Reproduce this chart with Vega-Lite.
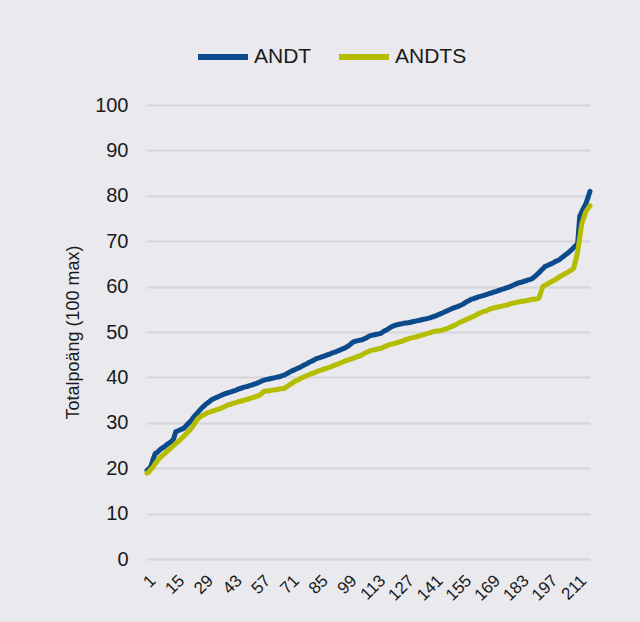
{
  "$schema": "https://vega.github.io/schema/vega-lite/v6.json",
  "width": 443,
  "height": 454,
  "autosize": {"type": "none"},
  "padding": {"left": 147, "top": 105, "right": 50, "bottom": 63},
  "background": "#e9e9ee",
  "config": {
    "view": {"stroke": null},
    "font": "Liberation Sans",
    "axis": {"labelFont": "Liberation Sans", "titleFont": "Liberation Sans", "labelColor": "#1a1a1a", "titleColor": "#1a1a1a"}
  },
  "data": {
    "values": [
      {"i":1,"ANDT":19.5,"ANDTS":18.9},{"i":2,"ANDT":19.9,"ANDTS":19.2},{"i":3,"ANDT":20.5,"ANDTS":19.8},{"i":4,"ANDT":22.0,"ANDTS":20.3},{"i":5,"ANDT":23.2,"ANDTS":21.0},
      {"i":6,"ANDT":23.5,"ANDTS":21.6},{"i":7,"ANDT":23.9,"ANDTS":22.2},{"i":8,"ANDT":24.3,"ANDTS":22.6},{"i":9,"ANDT":24.6,"ANDTS":23.0},{"i":10,"ANDT":24.9,"ANDTS":23.4},
      {"i":11,"ANDT":25.3,"ANDTS":23.8},{"i":12,"ANDT":25.6,"ANDTS":24.2},{"i":13,"ANDT":25.9,"ANDTS":24.6},{"i":14,"ANDT":26.5,"ANDTS":25.0},{"i":15,"ANDT":28.0,"ANDTS":25.4},
      {"i":16,"ANDT":28.2,"ANDTS":25.8},{"i":17,"ANDT":28.4,"ANDTS":26.2},{"i":18,"ANDT":28.6,"ANDTS":26.6},{"i":19,"ANDT":28.8,"ANDTS":27.1},{"i":20,"ANDT":29.3,"ANDTS":27.5},
      {"i":21,"ANDT":29.8,"ANDTS":28.0},{"i":22,"ANDT":30.2,"ANDTS":28.4},{"i":23,"ANDT":30.8,"ANDTS":29.0},{"i":24,"ANDT":31.4,"ANDTS":29.7},{"i":25,"ANDT":31.9,"ANDTS":30.4},
      {"i":26,"ANDT":32.4,"ANDTS":31.0},{"i":27,"ANDT":32.9,"ANDTS":31.3},{"i":28,"ANDT":33.4,"ANDTS":31.6},{"i":29,"ANDT":33.8,"ANDTS":31.8},{"i":30,"ANDT":34.2,"ANDTS":32.1},
      {"i":31,"ANDT":34.5,"ANDTS":32.3},{"i":32,"ANDT":34.9,"ANDTS":32.4},{"i":33,"ANDT":35.2,"ANDTS":32.6},{"i":34,"ANDT":35.4,"ANDTS":32.7},{"i":35,"ANDT":35.6,"ANDTS":32.9},
      {"i":36,"ANDT":35.8,"ANDTS":33.0},{"i":37,"ANDT":36.0,"ANDTS":33.2},{"i":38,"ANDT":36.2,"ANDTS":33.4},{"i":39,"ANDT":36.4,"ANDTS":33.6},{"i":40,"ANDT":36.5,"ANDTS":33.8},
      {"i":41,"ANDT":36.7,"ANDTS":34.0},{"i":42,"ANDT":36.8,"ANDTS":34.1},{"i":43,"ANDT":37.0,"ANDTS":34.3},{"i":44,"ANDT":37.1,"ANDTS":34.4},{"i":45,"ANDT":37.3,"ANDTS":34.6},
      {"i":46,"ANDT":37.5,"ANDTS":34.7},{"i":47,"ANDT":37.6,"ANDTS":34.8},{"i":48,"ANDT":37.8,"ANDTS":34.9},{"i":49,"ANDT":37.9,"ANDTS":35.1},{"i":50,"ANDT":38.0,"ANDTS":35.2},
      {"i":51,"ANDT":38.2,"ANDTS":35.3},{"i":52,"ANDT":38.3,"ANDTS":35.5},{"i":53,"ANDT":38.5,"ANDTS":35.6},{"i":54,"ANDT":38.6,"ANDTS":35.8},{"i":55,"ANDT":38.8,"ANDTS":35.9},
      {"i":56,"ANDT":39.0,"ANDTS":36.1},{"i":57,"ANDT":39.2,"ANDTS":36.5},{"i":58,"ANDT":39.4,"ANDTS":36.9},{"i":59,"ANDT":39.5,"ANDTS":37.0},{"i":60,"ANDT":39.6,"ANDTS":37.0},
      {"i":61,"ANDT":39.7,"ANDTS":37.1},{"i":62,"ANDT":39.8,"ANDTS":37.2},{"i":63,"ANDT":39.9,"ANDTS":37.2},{"i":64,"ANDT":40.0,"ANDTS":37.3},{"i":65,"ANDT":40.1,"ANDTS":37.4},
      {"i":66,"ANDT":40.2,"ANDTS":37.5},{"i":67,"ANDT":40.4,"ANDTS":37.5},{"i":68,"ANDT":40.5,"ANDTS":37.6},{"i":69,"ANDT":40.8,"ANDTS":37.9},{"i":70,"ANDT":41.0,"ANDTS":38.2},
      {"i":71,"ANDT":41.3,"ANDTS":38.5},{"i":72,"ANDT":41.5,"ANDTS":38.8},{"i":73,"ANDT":41.7,"ANDTS":39.1},{"i":74,"ANDT":41.9,"ANDTS":39.3},{"i":75,"ANDT":42.1,"ANDTS":39.5},
      {"i":76,"ANDT":42.3,"ANDTS":39.8},{"i":77,"ANDT":42.6,"ANDTS":40.0},{"i":78,"ANDT":42.8,"ANDTS":40.2},{"i":79,"ANDT":43.0,"ANDTS":40.4},{"i":80,"ANDT":43.3,"ANDTS":40.6},
      {"i":81,"ANDT":43.5,"ANDTS":40.8},{"i":82,"ANDT":43.7,"ANDTS":40.9},{"i":83,"ANDT":44.0,"ANDTS":41.1},{"i":84,"ANDT":44.2,"ANDTS":41.3},{"i":85,"ANDT":44.3,"ANDTS":41.5},
      {"i":86,"ANDT":44.5,"ANDTS":41.6},{"i":87,"ANDT":44.6,"ANDTS":41.8},{"i":88,"ANDT":44.8,"ANDTS":41.9},{"i":89,"ANDT":45.0,"ANDTS":42.1},{"i":90,"ANDT":45.1,"ANDTS":42.2},
      {"i":91,"ANDT":45.3,"ANDTS":42.4},{"i":92,"ANDT":45.5,"ANDTS":42.6},{"i":93,"ANDT":45.6,"ANDTS":42.8},{"i":94,"ANDT":45.8,"ANDTS":42.9},{"i":95,"ANDT":46.0,"ANDTS":43.1},
      {"i":96,"ANDT":46.2,"ANDTS":43.3},{"i":97,"ANDT":46.4,"ANDTS":43.5},{"i":98,"ANDT":46.6,"ANDTS":43.7},{"i":99,"ANDT":46.9,"ANDTS":43.8},{"i":100,"ANDT":47.2,"ANDTS":44.0},
      {"i":101,"ANDT":47.6,"ANDTS":44.1},{"i":102,"ANDT":47.9,"ANDTS":44.3},{"i":103,"ANDT":48.0,"ANDTS":44.5},{"i":104,"ANDT":48.1,"ANDTS":44.6},{"i":105,"ANDT":48.2,"ANDTS":44.8},
      {"i":106,"ANDT":48.3,"ANDTS":45.0},{"i":107,"ANDT":48.5,"ANDTS":45.3},{"i":108,"ANDT":48.7,"ANDTS":45.5},{"i":109,"ANDT":49.0,"ANDTS":45.7},{"i":110,"ANDT":49.2,"ANDTS":45.9},
      {"i":111,"ANDT":49.3,"ANDTS":46.0},{"i":112,"ANDT":49.4,"ANDTS":46.1},{"i":113,"ANDT":49.5,"ANDTS":46.2},{"i":114,"ANDT":49.6,"ANDTS":46.3},{"i":115,"ANDT":49.7,"ANDTS":46.4},
      {"i":116,"ANDT":50.0,"ANDTS":46.6},{"i":117,"ANDT":50.3,"ANDTS":46.8},{"i":118,"ANDT":50.5,"ANDTS":47.0},{"i":119,"ANDT":50.8,"ANDTS":47.2},{"i":120,"ANDT":51.1,"ANDTS":47.3},
      {"i":121,"ANDT":51.3,"ANDTS":47.4},{"i":122,"ANDT":51.5,"ANDTS":47.5},{"i":123,"ANDT":51.6,"ANDTS":47.7},{"i":124,"ANDT":51.7,"ANDTS":47.8},{"i":125,"ANDT":51.8,"ANDTS":47.9},
      {"i":126,"ANDT":51.9,"ANDTS":48.1},{"i":127,"ANDT":52.0,"ANDTS":48.3},{"i":128,"ANDT":52.0,"ANDTS":48.4},{"i":129,"ANDT":52.1,"ANDTS":48.6},{"i":130,"ANDT":52.2,"ANDTS":48.7},
      {"i":131,"ANDT":52.3,"ANDTS":48.8},{"i":132,"ANDT":52.4,"ANDTS":48.9},{"i":133,"ANDT":52.5,"ANDTS":49.0},{"i":134,"ANDT":52.6,"ANDTS":49.2},{"i":135,"ANDT":52.7,"ANDTS":49.3},
      {"i":136,"ANDT":52.8,"ANDTS":49.4},{"i":137,"ANDT":52.9,"ANDTS":49.6},{"i":138,"ANDT":53.0,"ANDTS":49.7},{"i":139,"ANDT":53.1,"ANDTS":49.8},{"i":140,"ANDT":53.3,"ANDTS":50.0},
      {"i":141,"ANDT":53.4,"ANDTS":50.1},{"i":142,"ANDT":53.6,"ANDTS":50.2},{"i":143,"ANDT":53.8,"ANDTS":50.2},{"i":144,"ANDT":54.0,"ANDTS":50.3},{"i":145,"ANDT":54.2,"ANDTS":50.4},
      {"i":146,"ANDT":54.4,"ANDTS":50.6},{"i":147,"ANDT":54.6,"ANDTS":50.7},{"i":148,"ANDT":54.8,"ANDTS":50.9},{"i":149,"ANDT":55.0,"ANDTS":51.1},{"i":150,"ANDT":55.2,"ANDTS":51.3},
      {"i":151,"ANDT":55.4,"ANDTS":51.5},{"i":152,"ANDT":55.5,"ANDTS":51.7},{"i":153,"ANDT":55.7,"ANDTS":52.0},{"i":154,"ANDT":55.9,"ANDTS":52.2},{"i":155,"ANDT":56.1,"ANDTS":52.4},
      {"i":156,"ANDT":56.4,"ANDTS":52.6},{"i":157,"ANDT":56.7,"ANDTS":52.8},{"i":158,"ANDT":56.9,"ANDTS":53.0},{"i":159,"ANDT":57.2,"ANDTS":53.2},{"i":160,"ANDT":57.3,"ANDTS":53.4},
      {"i":161,"ANDT":57.5,"ANDTS":53.6},{"i":162,"ANDT":57.6,"ANDTS":53.9},{"i":163,"ANDT":57.8,"ANDTS":54.1},{"i":164,"ANDT":57.9,"ANDTS":54.3},{"i":165,"ANDT":58.0,"ANDTS":54.5},
      {"i":166,"ANDT":58.2,"ANDTS":54.6},{"i":167,"ANDT":58.3,"ANDTS":54.8},{"i":168,"ANDT":58.5,"ANDTS":55.0},{"i":169,"ANDT":58.6,"ANDTS":55.2},{"i":170,"ANDT":58.8,"ANDTS":55.3},
      {"i":171,"ANDT":58.9,"ANDTS":55.4},{"i":172,"ANDT":59.1,"ANDTS":55.5},{"i":173,"ANDT":59.2,"ANDTS":55.6},{"i":174,"ANDT":59.4,"ANDTS":55.7},{"i":175,"ANDT":59.5,"ANDTS":55.8},
      {"i":176,"ANDT":59.7,"ANDTS":55.9},{"i":177,"ANDT":59.8,"ANDTS":56.0},{"i":178,"ANDT":60.0,"ANDTS":56.2},{"i":179,"ANDT":60.2,"ANDTS":56.3},{"i":180,"ANDT":60.4,"ANDTS":56.4},
      {"i":181,"ANDT":60.6,"ANDTS":56.5},{"i":182,"ANDT":60.8,"ANDTS":56.6},{"i":183,"ANDT":60.9,"ANDTS":56.7},{"i":184,"ANDT":61.0,"ANDTS":56.8},{"i":185,"ANDT":61.2,"ANDTS":56.8},
      {"i":186,"ANDT":61.3,"ANDTS":56.9},{"i":187,"ANDT":61.5,"ANDTS":57.0},{"i":188,"ANDT":61.6,"ANDTS":57.1},{"i":189,"ANDT":61.8,"ANDTS":57.2},{"i":190,"ANDT":62.2,"ANDTS":57.2},
      {"i":191,"ANDT":62.6,"ANDTS":57.3},{"i":192,"ANDT":63.0,"ANDTS":57.4},{"i":193,"ANDT":63.5,"ANDTS":58.7},{"i":194,"ANDT":63.9,"ANDTS":60.0},{"i":195,"ANDT":64.4,"ANDTS":60.3},
      {"i":196,"ANDT":64.6,"ANDTS":60.5},{"i":197,"ANDT":64.8,"ANDTS":60.8},{"i":198,"ANDT":65.0,"ANDTS":61.0},{"i":199,"ANDT":65.2,"ANDTS":61.3},{"i":200,"ANDT":65.5,"ANDTS":61.5},
      {"i":201,"ANDT":65.7,"ANDTS":61.8},{"i":202,"ANDT":65.9,"ANDTS":62.1},{"i":203,"ANDT":66.3,"ANDTS":62.4},{"i":204,"ANDT":66.6,"ANDTS":62.6},{"i":205,"ANDT":67.0,"ANDTS":62.9},
      {"i":206,"ANDT":67.3,"ANDTS":63.1},{"i":207,"ANDT":67.7,"ANDTS":63.4},{"i":208,"ANDT":68.1,"ANDTS":63.7},{"i":209,"ANDT":68.6,"ANDTS":64.0},{"i":210,"ANDT":69.0,"ANDTS":65.8},
      {"i":211,"ANDT":69.5,"ANDTS":67.7},{"i":212,"ANDT":75.5,"ANDTS":70.8},{"i":213,"ANDT":76.5,"ANDTS":73.9},{"i":214,"ANDT":77.4,"ANDTS":75.2},{"i":215,"ANDT":78.3,"ANDTS":76.5},
      {"i":216,"ANDT":79.6,"ANDTS":77.2},{"i":217,"ANDT":81.0,"ANDTS":77.8}
    ]
  },
  "transform": [{"fold": ["ANDT", "ANDTS"], "as": ["serie", "poang"]}],
  "mark": {"type": "line", "strokeWidth": 5, "strokeCap": "round", "strokeJoin": "round"},
  "encoding": {
    "x": {
      "field": "i", "type": "quantitative",
      "scale": {"domain": [1, 217], "nice": false, "zero": false},
      "axis": {
        "values": [1, 15, 29, 43, 57, 71, 85, 99, 113, 127, 141, 155, 169, 183, 197, 211],
        "labelAngle": -45, "labelFontSize": 17, "labelPadding": 13,
        "domain": false, "ticks": false, "grid": false, "title": null, "labelFlush": false, "labelOverlap": false
      }
    },
    "y": {
      "field": "poang", "type": "quantitative",
      "scale": {"domain": [0, 100], "nice": false},
      "axis": {
        "values": [0, 10, 20, 30, 40, 50, 60, 70, 80, 90, 100],
        "title": "Totalpoäng (100 max)", "titleFontSize": 18, "titleFontWeight": "normal", "titlePadding": 12,
        "labelFontSize": 20, "labelPadding": 19,
        "domain": false, "ticks": false, "gridColor": "#d6d6d8", "gridWidth": 2
      }
    },
    "color": {
      "field": "serie", "type": "nominal",
      "scale": {"domain": ["ANDT", "ANDTS"], "range": ["#0b4a8b", "#b5bd00"]},
      "legend": {
        "title": null, "orient": "none", "direction": "horizontal", "legendX": 48, "legendY": -76,
        "symbolType": "stroke", "symbolSize": 2500, "symbolStrokeWidth": 6, "labelFontSize": 21, "labelColor": "#1a1a1a",
        "columnPadding": 15, "labelOffset": 3
      }
    }
  }
}
